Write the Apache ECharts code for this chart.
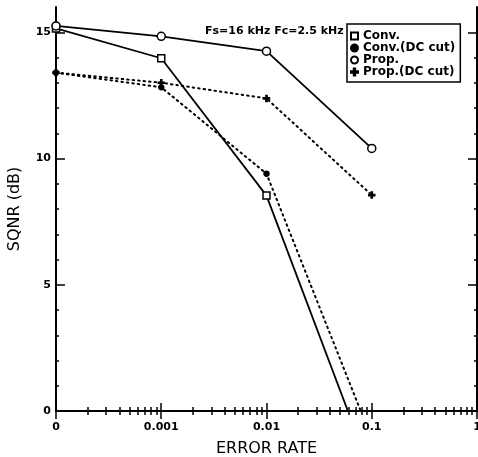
<!DOCTYPE html>
<html>
<head>
<meta charset="utf-8">
<script src="https://cdn.jsdelivr.net/npm/echarts@6/dist/echarts.min.js"></script>
<style>
  html, body { margin: 0; padding: 0; background: #fff; }
  #chart { width: 478px; height: 457px; }
</style>
</head>
<body>
<div id="chart"></div>
<script>
// error rate on x (log), SQNR in dB on y
var errorRates = [0.0001, 0.001, 0.01, 0.1];
var conv   = [15.15, 13.97, 8.53, -2.5];   // last point is below the plot, clipped
var convDc = [13.4, 12.82, 9.4, -1.1];
var prop   = [15.25, 14.84, 14.25, 10.4];
var propDc = [13.4, 13.0, 12.38, 8.55];

var xMajor = [0.0001, 0.001, 0.01, 0.1, 1];
var xLabels = ['0', '0.001', '0.01', '0.1', '1'];
var xMinor = [];
for (var d = -4; d < 0; d++) {
  for (var m = 2; m <= 9; m++) xMinor.push(m * Math.pow(10, d));
}
var yMajor = [0, 5, 10, 15];
var yMinor = [1, 2, 3, 4, 6, 7, 8, 9, 11, 12, 13, 14];

var plusPath = 'path://M4,0h2v4h4v2h-4v4h-2v-4h-4v-2h4z';

function pairs(ys) {
  return errorRates.map(function (x, i) { return [x, ys[i]]; });
}

var black = '#000';
var chart = echarts.init(document.getElementById('chart'));

function xAx(pos, major, showLabel) {
  return {
    type: 'log', logBase: 10, min: 0.0001, max: 1, position: pos,
    axisLine: { show: major, lineStyle: { color: black, width: 2 } },
    axisTick: {
      show: true, inside: true, length: major ? 8 : 4,
      customValues: major ? xMajor : xMinor,
      lineStyle: { color: black, width: 1.5 }
    },
    axisLabel: {
      show: showLabel, customValues: xMajor, color: black, margin: 11,
      fontFamily: 'DejaVu Sans', fontWeight: 'bold', fontSize: 11,
      formatter: function (v) {
        var i = Math.round(Math.log10(v)) + 4;
        return xLabels[i];
      }
    },
    splitLine: { show: false },
    name: showLabel ? 'ERROR RATE' : '',
    nameLocation: 'middle', nameGap: 30,
    nameTextStyle: { color: black, fontFamily: 'DejaVu Sans', fontSize: 16 }
  };
}

function yAx(pos, major, showLabel) {
  return {
    type: 'value', min: 0, max: 16, position: pos,
    axisLine: { show: major, lineStyle: { color: black, width: 2 } },
    axisTick: {
      show: true, inside: true, length: major ? 9 : 3,
      customValues: major ? yMajor : yMinor,
      lineStyle: { color: black, width: 1.5 }
    },
    axisLabel: {
      show: showLabel, customValues: yMajor, color: black, margin: 5,
      fontFamily: 'DejaVu Sans', fontWeight: 'bold', fontSize: 11
    },
    splitLine: { show: false },
    name: showLabel ? 'SQNR (dB)' : '',
    nameLocation: 'middle', nameGap: 33,
    nameTextStyle: { color: black, fontFamily: 'DejaVu Sans', fontSize: 16 }
  };
}

function lineSeries(name, ys, dotted, symbol, size, filled) {
  return {
    name: name, type: 'line', data: pairs(ys), clip: true,
    symbol: symbol, symbolSize: size, showAllSymbol: true,
    lineStyle: dotted
      ? { color: black, width: 2, type: [1.5, 4], cap: 'round' }
      : { color: black, width: 1.8 },
    itemStyle: { color: filled ? black : '#fff', borderColor: black, borderWidth: 1.5 },
    emphasis: { disabled: true },
    z: 3
  };
}

chart.setOption({
  animation: false,
  backgroundColor: '#fff',
  grid: { left: 56, right: 1, top: 7, bottom: 46, outerBoundsMode: 'none' },
  title: {
    text: 'Fs=16 kHz Fc=2.5 kHz',
    left: 200, top: 21,
    textStyle: { color: black, fontFamily: 'DejaVu Sans', fontWeight: 'bold', fontSize: 11 }
  },
  legend: {
    orient: 'vertical', left: 347, top: 24,
    borderColor: black, borderWidth: 1.5, borderRadius: 0,
    padding: [6, 5, 4, 3],
    itemGap: 0, itemWidth: 7, itemHeight: 7,
    backgroundColor: '#fff',
    textStyle: { color: black, fontFamily: 'DejaVu Sans', fontWeight: 'bold', fontSize: 12, lineHeight: 12 },
    data: [
      { name: 'Conv.', icon: 'rect' },
      { name: 'Conv.(DC cut)', icon: 'circle' },
      { name: 'Prop.', icon: 'circle' },
      { name: 'Prop.(DC cut)', icon: plusPath }
    ],
    selectedMode: false
  },
  xAxis: [xAx('bottom', true, true), xAx('bottom', false, false), xAx('top', true, false), xAx('top', false, false)],
  yAxis: [yAx('left', true, true), yAx('left', false, false), yAx('right', true, false), yAx('right', false, false)],
  series: [
    lineSeries('Conv.', conv, false, 'rect', 7, false),
    lineSeries('Conv.(DC cut)', convDc, true, 'circle', 5, true),
    lineSeries('Prop.', prop, false, 'circle', 8, false),
    lineSeries('Prop.(DC cut)', propDc, true, plusPath, 6, true)
  ]
});
</script>
</body>
</html>
